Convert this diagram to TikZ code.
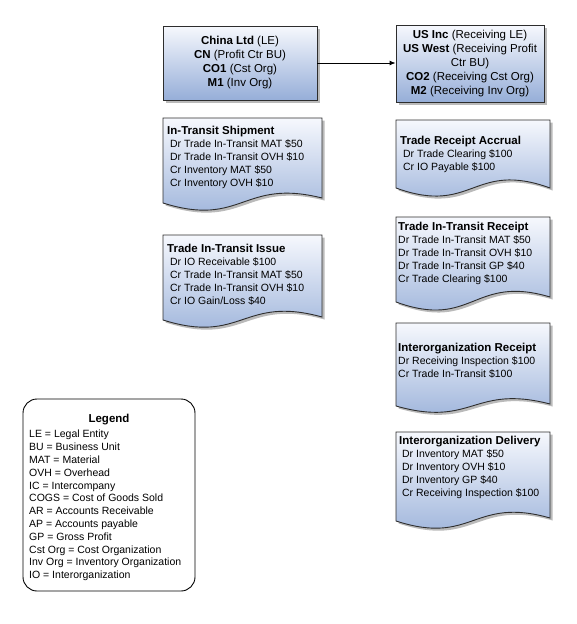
\documentclass[tikz,border=0pt]{standalone}
\usepackage{fontspec}
\setmainfont{Liberation Sans}
\usetikzlibrary{arrows.meta,shadows}
\definecolor{gtop}{RGB}{246,248,253}
\definecolor{gbot}{RGB}{150,174,216}
\definecolor{edgec}{RGB}{45,45,45}
\definecolor{shadowc}{RGB}{140,140,140}
\tikzset{
  fillbox/.style={draw=edgec, line width=0.9pt, top color=gtop, bottom color=gbot},
  orgbox/.style={fillbox, rectangle, inner sep=0pt, align=center,
    font=\fontsize{11.5}{14}\selectfont,
    drop shadow={shadow xshift=2.5pt, shadow yshift=-2.5pt, fill=shadowc, opacity=0.6}},
  doctext/.style={inner sep=0pt, align=left, anchor=north west,
    font=\fontsize{10.5}{13}\selectfont},
  legendbox/.style={draw=black, line width=0.9pt, rounded corners=14pt, fill=white, inner sep=0pt},
  legendtext/.style={inner sep=0pt, align=left, anchor=north west,
    font=\fontsize{10.5}{12.8}\selectfont},
  arrowline/.style={draw=black, line width=0.9pt, -{Latex[length=6pt,width=5pt]}},
}
\newcommand\ttl[1]{{\fontsize{11.5}{13}\selectfont\bfseries #1}}
% #1 L, #2 T, #3 R, #4 B (left bottom), #5 rise of right end, #6 wave depth
\newcommand\docshape[6]{%
  \begin{scope}[shift={(2.5,2.5)}]
    \fill[shadowc, opacity=0.6] (#1,#2) -- (#1,#4) .. controls ({(#1+#3)/2},{#4+#6}) and ({(#1+#3)/2},{#4-#6}) .. (#3,{#4-#5}) -- (#3,#2) -- cycle;
  \end{scope}
  \path[fillbox] (#1,#2) -- (#1,#4) .. controls ({(#1+#3)/2},{#4+#6}) and ({(#1+#3)/2},{#4-#6}) .. (#3,{#4-#5}) -- (#3,#2) -- cycle;
}
\begin{document}
\begin{tikzpicture}[x=1pt,y=-1pt]
\useasboundingbox (0,0) rectangle (576,624);

% organisation boxes
\node[orgbox, minimum width=154pt, minimum height=74pt] (china) at (240,63)
  {\textbf{China Ltd} (LE)\\\textbf{CN} (Profit Ctr BU)\\\textbf{CO1} (Cst Org)\\\textbf{M1} (Inv Org)};
\node[orgbox, minimum width=148pt, minimum height=77pt] (us) at (470,63.5)
  {\textbf{US Inc} (Receiving LE)\\\textbf{US West} (Receiving Profit\\Ctr BU)\\\textbf{CO2} (Receiving Cst Org)\\\textbf{M2} (Receiving Inv Org)};
\draw[arrowline] (china.east) -- (china.east -| us.west);

% left column documents
\docshape{163}{118}{322}{203}{5}{25}
\node[doctext] (ship) at (167,125.5)
  {\ttl{In-Transit Shipment}\\\ Dr Trade In-Transit MAT \$50\\\ Dr Trade In-Transit OVH \$10\\\ Cr Inventory MAT \$50\\\ Cr Inventory OVH \$10};

\docshape{163}{235}{322}{320}{3}{25}
\node[doctext] (issue) at (167,243.5)
  {\ttl{Trade In-Transit Issue}\\\ Dr IO Receivable \$100\\\ Cr Trade In-Transit MAT \$50\\\ Cr Trade In-Transit OVH \$10\\\ Cr IO Gain/Loss \$40};

% right column documents
\docshape{396}{120}{550}{188}{0}{28}
\node[doctext] (accrual) at (400,135.5)
  {\ttl{Trade Receipt Accrual}\\\ Dr Trade Clearing \$100\\\ Cr IO Payable \$100};

\docshape{396}{217}{550}{302}{5}{28}
\node[doctext] (receipt) at (398,221.5)
  {\ttl{Trade In-Transit Receipt}\\Dr Trade In-Transit MAT \$50\\Dr Trade In-Transit OVH \$10\\Dr Trade In-Transit GP \$40\\Cr Trade Clearing \$100};

\docshape{396}{323}{550}{406}{2}{22}
\node[doctext] (ioreceipt) at (398,342.5)
  {\ttl{Interorganization Receipt}\\Dr Receiving Inspection \$100\\Cr Trade In-Transit \$100};

\docshape{396}{432}{550}{521}{3}{25}
\node[doctext] (iodelivery) at (399,435.5)
  {\ttl{Interorganization Delivery}\\\ Dr Inventory MAT \$50\\\ Dr Inventory OVH \$10\\\ Dr Inventory GP \$40\\\ Cr Receiving Inspection \$100};

% legend
\node[legendbox, minimum width=172pt, minimum height=192pt] (legend) at (109,495) {};
\node[inner sep=0pt, font=\fontsize{11.5}{13}\selectfont\bfseries] (legendtitle) at (109,420) {Legend};
\node[legendtext] (legendbody) at (29,430)
  {LE = Legal Entity\\BU = Business Unit\\MAT = Material\\OVH = Overhead\\IC = Intercompany\\COGS = Cost of Goods Sold\\AR = Accounts Receivable\\AP = Accounts payable\\GP = Gross Profit\\Cst Org = Cost Organization\\Inv Org = Inventory Organization\\IO = Interorganization};
\end{tikzpicture}
\end{document}
